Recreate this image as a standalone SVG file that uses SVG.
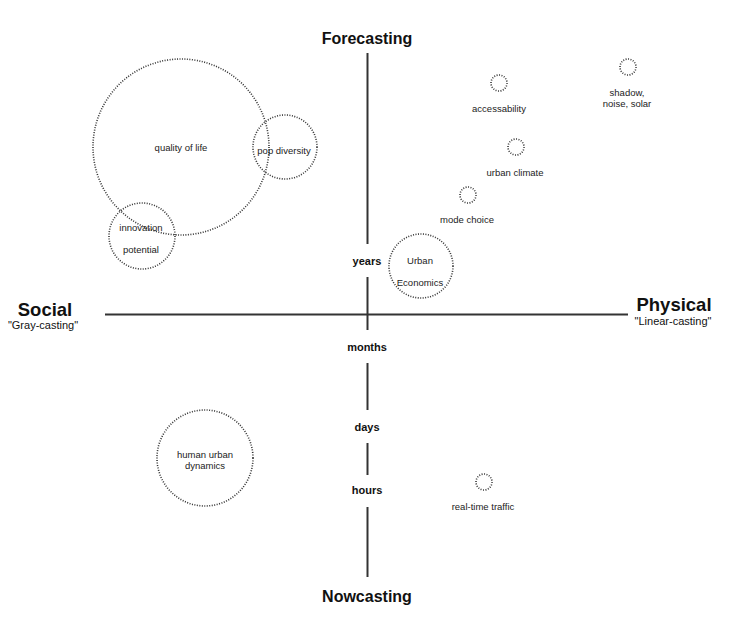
<svg xmlns="http://www.w3.org/2000/svg" width="731" height="626" viewBox="0 0 731 626">
<style>
text{font-family:"Liberation Sans",Arial,sans-serif;fill:#111}
.t{font-size:9.5px;fill:#222;text-anchor:middle}
.ax{font-weight:bold;text-anchor:middle}
.c{fill:none;stroke:#333;stroke-width:1.6;stroke-dasharray:1 1.5}
.l{stroke:#333;stroke-width:2;fill:none}
</style>
<rect width="731" height="626" fill="#fff"/>
<g id="axes">
<line class="l" x1="367.5" y1="53" x2="367.5" y2="244"/>
<line class="l" x1="367.5" y1="277" x2="367.5" y2="330"/>
<line class="l" x1="367.5" y1="363" x2="367.5" y2="410"/>
<line class="l" x1="367.5" y1="443" x2="367.5" y2="475"/>
<line class="l" x1="367.5" y1="507" x2="367.5" y2="577"/>
<line class="l" x1="105" y1="314.5" x2="628" y2="314.5"/>
</g>
<g id="labels">
<text class="ax" x="367" y="44" font-size="16">Forecasting</text>
<text class="ax" x="367" y="602" font-size="16">Nowcasting</text>
<text class="ax" x="45" y="316" font-size="18.5">Social</text>
<text x="43" y="329" font-size="11" text-anchor="middle">"Gray-casting"</text>
<text class="ax" x="674" y="311" font-size="18.5">Physical</text>
<text x="673" y="325" font-size="11" text-anchor="middle">"Linear-casting"</text>
<text class="ax" x="367" y="265" font-size="11">years</text>
<text class="ax" x="367" y="351" font-size="11">months</text>
<text class="ax" x="367" y="431" font-size="11">days</text>
<text class="ax" x="367" y="494" font-size="11">hours</text>
</g>
<g id="quality-of-life"><circle class="c" cx="181" cy="147" r="88"/><text class="t" x="181" y="151">quality of life</text></g>
<g id="pop-diversity"><circle class="c" cx="285" cy="147" r="32"/><text class="t" x="284" y="154">pop diversity</text></g>
<g id="innovation-potential"><circle class="c" cx="142" cy="236" r="33"/><text class="t" x="141" y="231">innovation</text><text class="t" x="141" y="253">potential</text></g>
<g id="urban-economics"><circle class="c" cx="421" cy="266" r="32"/><text class="t" x="420" y="264">Urban</text><text class="t" x="420" y="286">Economics</text></g>
<g id="accessability"><circle class="c" cx="499" cy="83" r="8"/><text class="t" x="499" y="112">accessability</text></g>
<g id="shadow"><circle class="c" cx="628" cy="67" r="8"/><text class="t" x="627" y="96">shadow,</text><text class="t" x="627" y="107">noise, solar</text></g>
<g id="urban-climate"><circle class="c" cx="516" cy="147" r="8"/><text class="t" x="515" y="176">urban climate</text></g>
<g id="mode-choice"><circle class="c" cx="468" cy="195" r="8"/><text class="t" x="467" y="223">mode choice</text></g>
<g id="human-urban-dynamics"><circle class="c" cx="205" cy="458" r="48"/><text class="t" x="205" y="458">human urban</text><text class="t" x="205" y="469">dynamics</text></g>
<g id="real-time-traffic"><circle class="c" cx="484" cy="482" r="8"/><text class="t" x="483" y="510">real-time traffic</text></g>
</svg>
